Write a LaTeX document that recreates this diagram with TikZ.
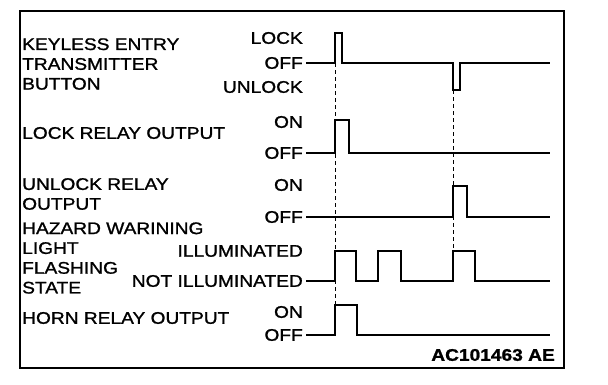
\documentclass[tikz,border=0pt]{standalone}
\usepackage{fontspec}
\setmainfont[FakeStretch=1.14,FakeBold=1.2]{Liberation Sans}
\usetikzlibrary{positioning}
\newcommand\sigfont{\fontsize{16.8}{19.8}\selectfont}

\begin{document}
\begin{tikzpicture}[x=1pt,y=-1pt,node distance=3pt,
  sig/.style={anchor=west,inner sep=0pt,align=left,font=\sigfont},
  lvl/.style={inner sep=0pt,font=\sigfont},
  wave/.style={line width=2pt},
  guide/.style={line width=0.9pt,dash pattern=on 4pt off 3pt}]
\useasboundingbox (0,0) rectangle (608,384);
\draw[line width=1.3pt] (20,11) rectangle (564,368);
% signal names
\node[sig] (key) at (22,64) {KEYLESS ENTRY\\TRANSMITTER\\BUTTON};
\node[sig] (lrel) at (22,133) {LOCK RELAY OUTPUT};
\node[sig] (urel) at (22,194) {UNLOCK RELAY\\OUTPUT};
\node[sig] (haz) at (22,258) {HAZARD WARINING\\LIGHT\\FLASHING\\STATE};
\node[sig] (horn) at (22,318) {HORN RELAY OUTPUT};
% start of each trace
\coordinate (k0) at (306,63);
\coordinate (l0) at (306,153);
\coordinate (u0) at (306,217);
\coordinate (h0) at (306,281);
\coordinate (n0) at (306,335);
% levels
\node[lvl,anchor=east] (klock) at (303,38) {LOCK};
\node[lvl,left=of k0] (koff) {OFF};
\node[lvl,anchor=east] (kunl) at (303,87) {UNLOCK};
\node[lvl,anchor=east] (lon) at (303,122) {ON};
\node[lvl,left=of l0] (loff) {OFF};
\node[lvl,anchor=east] (uon) at (303,185) {ON};
\node[lvl,left=of u0] (uoff) {OFF};
\node[lvl,anchor=east] (hon) at (303,251) {ILLUMINATED};
\node[lvl,left=of h0] (hoff) {NOT ILLUMINATED};
\node[lvl,anchor=east] (non) at (303,312) {ON};
\node[lvl,left=of n0] (noff) {OFF};
% timing guides
\coordinate (lk) at (335,63);
\coordinate (hn) at (335,305);
\coordinate (ul) at (453,90);
\coordinate (hz) at (453,251);
\draw[guide] (lk) -- (hn);
\draw[guide] (ul) -- (hz);
% traces
\draw[wave] (k0) -- (335,63) -- ++(0,-30) -- ++(7,0) -- ++(0,30) -- (453,63)
  -- ++(0,27) -- ++(7,0) -- ++(0,-27) -- (550,63);
\draw[wave] (l0) -- (335,153) -- ++(0,-33) -- ++(14,0) -- ++(0,33) -- (550,153);
\draw[wave] (u0) -- (453,217) -- ++(0,-31) -- ++(14,0) -- ++(0,31) -- (550,217);
\draw[wave] (h0) -- (335,281) -- ++(0,-30) -- ++(21,0) -- ++(0,30) -- (378,281)
  -- ++(0,-30) -- ++(23,0) -- ++(0,30) -- (453,281)
  -- ++(0,-30) -- ++(22,0) -- ++(0,30) -- (550,281);
\draw[wave] (n0) -- (335,335) -- ++(0,-30) -- ++(22,0) -- ++(0,30) -- (550,335);
\node[lvl,anchor=east,font=\sigfont\bfseries] (code) at (555,355) {AC101463 AE};
\end{tikzpicture}
\end{document}
